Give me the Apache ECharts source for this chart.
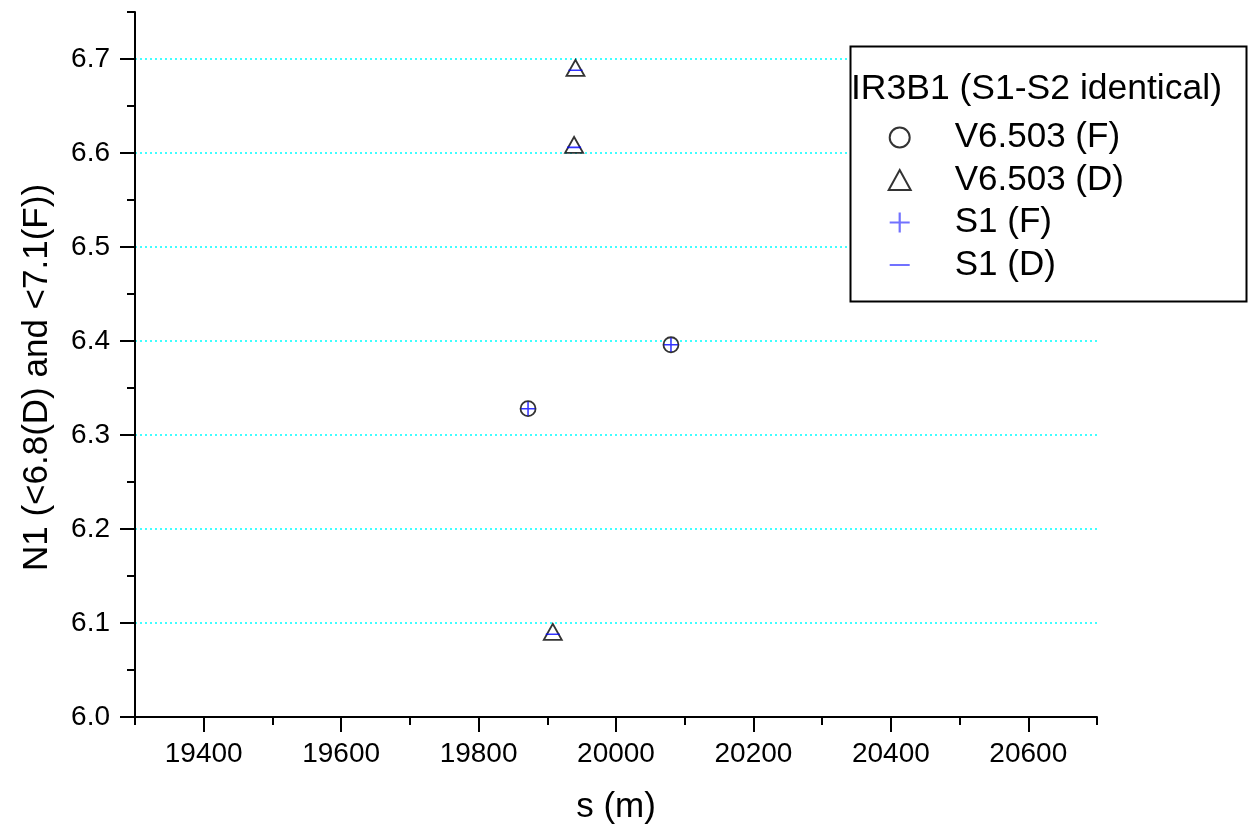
<!DOCTYPE html>
<html><head><meta charset="utf-8">
<script src="https://cdn.jsdelivr.net/npm/echarts@6/dist/echarts.min.js"></script>
<style>html,body{margin:0;padding:0;background:#fff}#c{width:1251px;height:828px}</style>
</head><body><div id="c"></div>
<script>
// ---- data ----
const xF = [19872, 20080];
const yF = [6.328, 6.396];
const xD = [19941, 19939, 19908];
const yD = [6.688, 6.606, 6.088];
const xMajorTicks = [19400, 19600, 19800, 20000, 20200, 20400, 20600];
const yMajorTicks = [6.0, 6.1, 6.2, 6.3, 6.4, 6.5, 6.6, 6.7];
const yGridValues = [6.1, 6.2, 6.3, 6.4, 6.5, 6.6, 6.7];
const seriesNames = ['V6.503 (F)', 'V6.503 (D)', 'S1 (F)', 'S1 (D)'];
const legendTitle = 'IR3B1 (S1-S2 identical)';
const xName = 's (m)';
const yName = 'N1 (<6.8(D) and <7.1(F))';

const ptsF = xF.map((x, i) => [x, yF[i]]);
const ptsD = xD.map((x, i) => [x, yD[i]]);

const FONT = '"Liberation Sans", Arial, sans-serif';
const PLUS = 'path://M4.45,0h1.1v10h-1.1z M0,4.45h10v1.1h-10z';
const MINUS = 'path://M0,0h0.01v0.01h-0.01z M9.99,9.99h0.01v0.01h-0.01z M0,4.45h10v1.1h-10z';
const BLACK = { color: '#000', width: 2 };
const CYAN = '#00ffff';

const chart = echarts.init(document.getElementById('c'), null, { renderer: 'canvas' });
chart.setOption({
  animation: false,
  backgroundColor: '#fff',
  grid: { left: 135, right: 154, top: 12, bottom: 111, containLabel: false, outerBoundsMode: 'none' },
  xAxis: [
    {
      type: 'value', min: 19300, max: 20700, interval: 100, position: 'bottom',
      axisLine: { show: true, onZero: false, lineStyle: BLACK },
      axisTick: { show: true, customValues: xMajorTicks, length: 15, lineStyle: BLACK },
      axisLabel: { customValues: xMajorTicks, formatter: v => String(v), margin: 23, fontSize: 28, color: '#000', fontFamily: FONT },
      splitLine: { show: false },
      name: xName, nameLocation: 'middle', nameGap: 73,
      nameTextStyle: { fontSize: 35, color: '#000', fontFamily: FONT }
    },
    {
      type: 'value', min: 19300, max: 20700, interval: 100, position: 'bottom',
      axisLine: { show: false, onZero: false },
      axisTick: { show: true, length: 8, lineStyle: BLACK },
      axisLabel: { show: false },
      splitLine: { show: false }
    }
  ],
  yAxis: [
    {
      type: 'value', min: 6.0, max: 6.75, interval: 0.1, position: 'left',
      axisLine: { show: true, onZero: false, lineStyle: BLACK },
      axisTick: { show: true, customValues: yMajorTicks, length: 15, lineStyle: BLACK },
      axisLabel: { customValues: yMajorTicks, formatter: v => v.toFixed(1), margin: 25, fontSize: 28, color: '#000', fontFamily: FONT },
      splitLine: { show: false },
      name: yName, nameLocation: 'middle', nameGap: 80,
      nameTextStyle: { fontSize: 35, color: '#000', fontFamily: FONT, padding: [0, 26, 0, 0] }
    },
    {
      type: 'value', min: 6.0, max: 6.75, interval: 0.05, position: 'left',
      axisLine: { show: false, onZero: false },
      axisTick: { show: true, length: 8, lineStyle: BLACK },
      axisLabel: { show: false },
      splitLine: { show: false }
    },
    {
      type: 'value', min: 6.0, max: 6.75, interval: 0.1, position: 'left',
      axisLine: { show: false, onZero: false },
      axisTick: { show: false, customValues: yGridValues },
      axisLabel: { show: false },
      splitLine: { show: true, lineStyle: { color: CYAN, width: 1.5, type: [2, 3], opacity: 1 } }
    }
  ],
  legend: {
    orient: 'vertical', left: 887.7, top: 120, padding: 0, itemGap: 7.5,
    itemWidth: 22, itemHeight: 20, selectedMode: false, z: 5,
    textStyle: { fontSize: 35, lineHeight: 34, color: '#000', fontFamily: FONT, padding: [0, 0, 0, 39] },
    data: [
      { name: seriesNames[0], icon: 'circle' },
      { name: seriesNames[1], icon: 'triangle' },
      { name: seriesNames[2], icon: PLUS, itemStyle: { color: '#4d4dff' } },
      { name: seriesNames[3], icon: MINUS, itemStyle: { color: '#4d4dff' } }
    ]
  },
  graphic: [
    { type: 'rect', z: 3, shape: { x: 850.5, y: 46.5, width: 396, height: 255 },
      style: { fill: '#fff', stroke: '#000', lineWidth: 2 } },
    { type: 'text', z: 4, x: 851, y: 89.5,
      style: { text: legendTitle, fontSize: 35.5, fontFamily: FONT, fill: '#000', align: 'left', verticalAlign: 'middle' } }
  ],
  series: [
    { type: 'scatter', name: seriesNames[0], data: ptsF, symbol: 'circle', symbolSize: 15,
      itemStyle: { color: '#fff', borderColor: '#000', borderWidth: 1.8 }, emphasis: { disabled: true } },
    { type: 'scatter', name: seriesNames[1], data: ptsD, symbol: 'triangle', symbolSize: [18, 16], symbolOffset: [0, -2.5],
      itemStyle: { color: '#fff', borderColor: '#000', borderWidth: 1.8 }, emphasis: { disabled: true } },
    { type: 'scatter', name: seriesNames[2], data: ptsF, symbol: PLUS, symbolSize: 14,
      itemStyle: { color: '#0000ff' }, emphasis: { disabled: true } },
    { type: 'scatter', name: seriesNames[3], data: ptsD, symbol: MINUS, symbolSize: 14,
      itemStyle: { color: '#0000ff' }, emphasis: { disabled: true } }
  ]
});
</script>
</body></html>
